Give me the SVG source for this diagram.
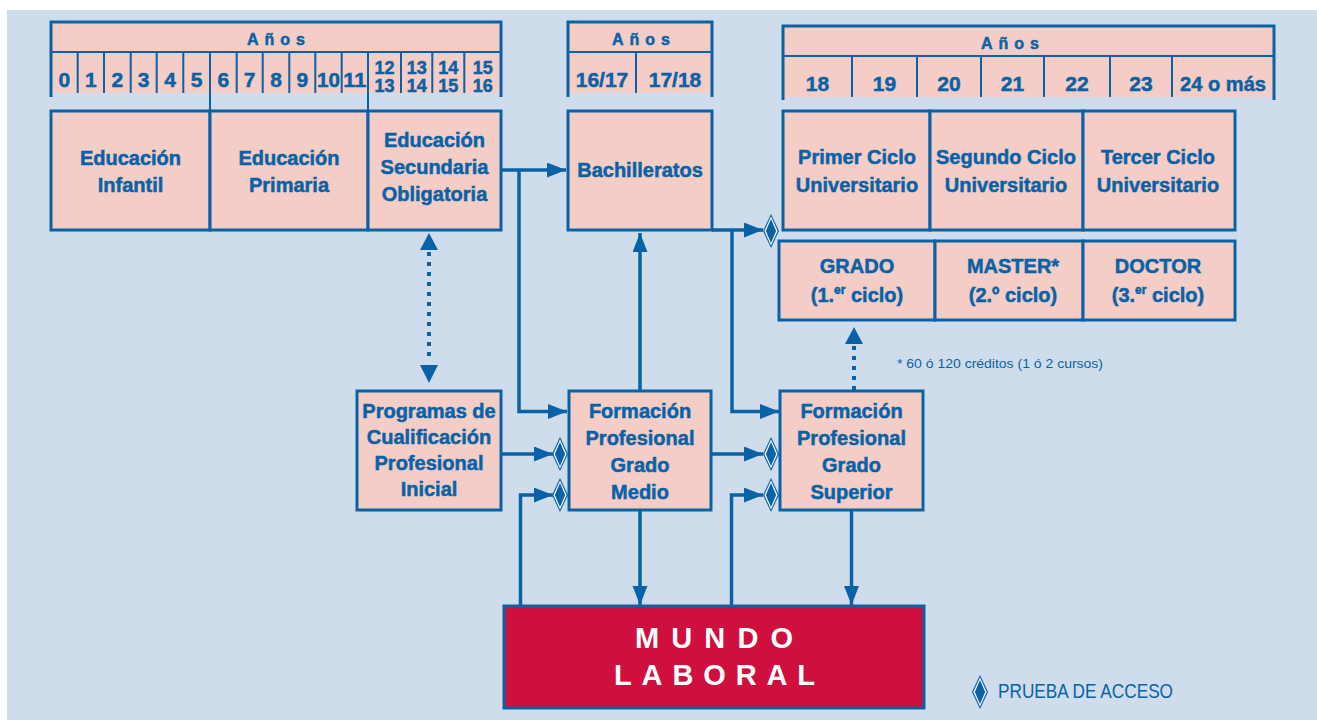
<svg xmlns="http://www.w3.org/2000/svg" width="1317" height="720" viewBox="0 0 1317 720">
<style>
.bg{fill:#cfdcec}
.box{fill:#f4cdc6;stroke:#0a62a6;stroke-width:3}
.hfill{fill:#f4cdc6}
.hb{stroke:#0a62a6;stroke-width:3;fill:none}
.hd{stroke:#0a62a6;stroke-width:2;fill:none}
.t{font-family:"Liberation Sans",Arial,sans-serif;font-weight:bold;fill:#0a62a6;text-anchor:middle;stroke:#0a62a6;stroke-width:0.5}
.bt{font-size:20px}
.num{font-size:21px}
.sm{font-size:18px}
.anos{font-size:16px;letter-spacing:6px}
.c{stroke:#0a62a6;stroke-width:3.5;fill:none}
.dot{stroke:#0a62a6;stroke-width:4;fill:none;stroke-dasharray:4 6}
.lt{font-family:"Liberation Sans",Arial,sans-serif;fill:#0a62a6}
</style>
<defs>
<marker id="ah" markerUnits="userSpaceOnUse" markerWidth="20" markerHeight="16" refX="19" refY="7.5" orient="auto">
<path d="M0,0 L19,7.5 L0,15 z" fill="#0a62a6"/>
</marker>
<g id="dia">
<polygon points="0,-17 8,0 0,17 -8,0" fill="#0a62a6"/>
<polygon points="0,-14.5 6.6,0 0,14.5 -6.6,0" fill="#ffffff"/>
<polygon points="0,-12 5.2,0 0,12 -5.2,0" fill="#0a62a6"/>
</g>
</defs>
<rect x="0" y="0" width="1317" height="720" fill="#ffffff"/>
<rect class="bg" x="7" y="10" width="1310" height="710"/>

<g id="header-1">
<rect class="hfill" x="51" y="22" width="450" height="71"/>
<path class="hb" d="M51,97 V22 H501 V97"/>
<path class="hd" d="M51,52 H501 M77.7,52 V93 M104,52 V93 M130.7,52 V93 M156.7,52 V93 M183.3,52 V93 M236.7,52 V93 M262.7,52 V93 M289.3,52 V93 M315.3,52 V93 M341.7,52 V93 M401,52 V93 M432.3,52 V93 M464.3,52 V93"/>
<path class="hd" d="M210,52 V111 M368,52 V111"/>
<text class="t anos" x="279" y="45">Años</text>
<text class="t num" x="64.3" y="87">0</text>
<text class="t num" x="90.8" y="87">1</text>
<text class="t num" x="117.3" y="87">2</text>
<text class="t num" x="143.7" y="87">3</text>
<text class="t num" x="170" y="87">4</text>
<text class="t num" x="196.7" y="87">5</text>
<text class="t num" x="223.3" y="87">6</text>
<text class="t num" x="249.7" y="87">7</text>
<text class="t num" x="276" y="87">8</text>
<text class="t num" x="302.3" y="87">9</text>
<text class="t num" x="328.5" y="87" textLength="23" lengthAdjust="spacingAndGlyphs">10</text>
<text class="t num" x="354.8" y="87" textLength="23" lengthAdjust="spacingAndGlyphs">11</text>
<text class="t sm" x="384.5" y="74">12</text><text class="t sm" x="384.5" y="92">13</text>
<text class="t sm" x="416.7" y="74">13</text><text class="t sm" x="416.7" y="92">14</text>
<text class="t sm" x="448.3" y="74">14</text><text class="t sm" x="448.3" y="92">15</text>
<text class="t sm" x="482.7" y="74">15</text><text class="t sm" x="482.7" y="92">16</text>
</g>

<g id="header-2">
<rect class="hfill" x="568" y="22" width="144" height="71"/>
<path class="hb" d="M568,97 V22 H712 V97"/>
<path class="hd" d="M568,52 H712 M636,52 V93"/>
<text class="t anos" x="644" y="45">Años</text>
<text class="t num" x="602" y="87">16/17</text>
<text class="t num" x="675" y="87">17/18</text>
</g>

<g id="header-3">
<rect class="hfill" x="783" y="26" width="491" height="71"/>
<path class="hb" d="M783,100 V26 H1274 V100"/>
<path class="hd" d="M783,56 H1274 M852,56 V97 M917,56 V97 M981,56 V97 M1044,56 V97 M1110,56 V97 M1172,56 V97"/>
<text class="t anos" x="1013" y="49">Años</text>
<text class="t num" x="817.5" y="91">18</text>
<text class="t num" x="884.5" y="91">19</text>
<text class="t num" x="949" y="91">20</text>
<text class="t num" x="1012.5" y="91">21</text>
<text class="t num" x="1077" y="91">22</text>
<text class="t num" x="1141" y="91">23</text>
<text class="t num" x="1223" y="91" textLength="86" lengthAdjust="spacingAndGlyphs">24 o más</text>
</g>

<g id="connectors">
<path class="c" d="M501,170 H566" marker-end="url(#ah)"/>
<path class="c" d="M519,170 V411.5 H567" marker-end="url(#ah)"/>
<path class="c" d="M712,230 H763" marker-end="url(#ah)"/>
<path class="c" d="M732,230 V411.5 H779" marker-end="url(#ah)"/>
<path class="c" d="M640,391 V233" marker-end="url(#ah)"/>
<path class="dot" d="M429,252 V362"/>
<path d="M429,233 L438,250 L420,250 z M429,383 L438,365 L420,365 z" fill="#0a62a6"/>
<path class="c" d="M501,454 H553" marker-end="url(#ah)"/>
<path class="c" d="M520.5,606 V495 H553" marker-end="url(#ah)"/>
<path class="c" d="M712,454 H763" marker-end="url(#ah)"/>
<path class="c" d="M731.5,606 V495 H763" marker-end="url(#ah)"/>
<path class="c" d="M640,510 V605" marker-end="url(#ah)"/>
<path class="c" d="M851.5,510 V605" marker-end="url(#ah)"/>
<path class="dot" d="M854,346 V392"/>
<path d="M854,327 L863,344 L845,344 z" fill="#0a62a6"/>
<use href="#dia" x="771" y="231"/>
<use href="#dia" x="560" y="454"/>
<use href="#dia" x="560" y="495"/>
<use href="#dia" x="771" y="454"/>
<use href="#dia" x="771" y="495"/>
</g>

<g id="educacion-infantil">
<rect class="box" x="51" y="111" width="159" height="119"/>
<text class="t bt" x="130.5" y="165">Educación</text>
<text class="t bt" x="130.5" y="192">Infantil</text>
</g>
<g id="educacion-primaria">
<rect class="box" x="210" y="111" width="158" height="119"/>
<text class="t bt" x="289" y="165">Educación</text>
<text class="t bt" x="289" y="192">Primaria</text>
</g>
<g id="eso">
<rect class="box" x="368" y="111" width="133" height="119"/>
<text class="t bt" x="434.5" y="147">Educación</text>
<text class="t bt" x="434.5" y="174">Secundaria</text>
<text class="t bt" x="434.5" y="201">Obligatoria</text>
</g>
<g id="bachilleratos">
<rect class="box" x="568" y="111" width="144" height="119"/>
<text class="t bt" x="640" y="177">Bachilleratos</text>
</g>
<g id="primer-ciclo">
<rect class="box" x="783" y="111" width="147" height="119"/>
<text class="t bt" x="857" y="164">Primer Ciclo</text>
<text class="t bt" x="857" y="192">Universitario</text>
</g>
<g id="segundo-ciclo">
<rect class="box" x="930" y="111" width="153" height="119"/>
<text class="t bt" x="1006" y="164">Segundo Ciclo</text>
<text class="t bt" x="1006" y="192">Universitario</text>
</g>
<g id="tercer-ciclo">
<rect class="box" x="1083" y="111" width="152" height="119"/>
<text class="t bt" x="1158" y="164">Tercer Ciclo</text>
<text class="t bt" x="1158" y="192">Universitario</text>
</g>
<g id="grado">
<rect class="box" x="779" y="241" width="156" height="79"/>
<text class="t bt" x="857" y="273">GRADO</text>
<text class="t bt" x="857" y="302">(1.<tspan font-size="12" dy="-8">er</tspan><tspan dy="8"> ciclo)</tspan></text>
</g>
<g id="master">
<rect class="box" x="935" y="241" width="148" height="79"/>
<text class="t bt" x="1013" y="273">MASTER*</text>
<text class="t bt" x="1013" y="302">(2.º ciclo)</text>
</g>
<g id="doctor">
<rect class="box" x="1083" y="241" width="152" height="79"/>
<text class="t bt" x="1158" y="273">DOCTOR</text>
<text class="t bt" x="1158" y="302">(3.<tspan font-size="12" dy="-8">er</tspan><tspan dy="8"> ciclo)</tspan></text>
</g>
<g id="programas">
<rect class="box" x="357" y="391" width="144" height="119"/>
<text class="t bt" x="429" y="418">Programas de</text>
<text class="t bt" x="429" y="444">Cualificación</text>
<text class="t bt" x="429" y="470">Profesional</text>
<text class="t bt" x="429" y="496">Inicial</text>
</g>
<g id="fp-medio">
<rect class="box" x="569" y="391" width="142" height="119"/>
<text class="t bt" x="640" y="418">Formación</text>
<text class="t bt" x="640" y="445">Profesional</text>
<text class="t bt" x="640" y="472">Grado</text>
<text class="t bt" x="640" y="499">Medio</text>
</g>
<g id="fp-superior">
<rect class="box" x="780" y="391" width="143" height="119"/>
<text class="t bt" x="851.5" y="418">Formación</text>
<text class="t bt" x="851.5" y="445">Profesional</text>
<text class="t bt" x="851.5" y="472">Grado</text>
<text class="t bt" x="851.5" y="499">Superior</text>
</g>
<g id="mundo-laboral">
<rect x="504" y="606" width="420" height="102" fill="#cf0f3e" stroke="#0a62a6" stroke-width="3"/>
<text font-family="Liberation Sans,Arial,sans-serif" font-weight="bold" font-size="29" fill="#ffffff" text-anchor="middle" x="714" y="648" textLength="158" lengthAdjust="spacing">MUNDO</text>
<text font-family="Liberation Sans,Arial,sans-serif" font-weight="bold" font-size="29" fill="#ffffff" text-anchor="middle" x="714.5" y="685" textLength="201" lengthAdjust="spacing">LABORAL</text>
</g>
<g id="footnote">
<text class="lt" x="897" y="368" font-size="13" textLength="206" lengthAdjust="spacingAndGlyphs">* 60 ó 120 créditos (1 ó 2 cursos)</text>
</g>
<g id="legend">
<use href="#dia" x="980" y="692"/>
<text class="lt" x="998" y="698" font-size="21" textLength="175" lengthAdjust="spacingAndGlyphs">PRUEBA DE ACCESO</text>
</g>
</svg>
